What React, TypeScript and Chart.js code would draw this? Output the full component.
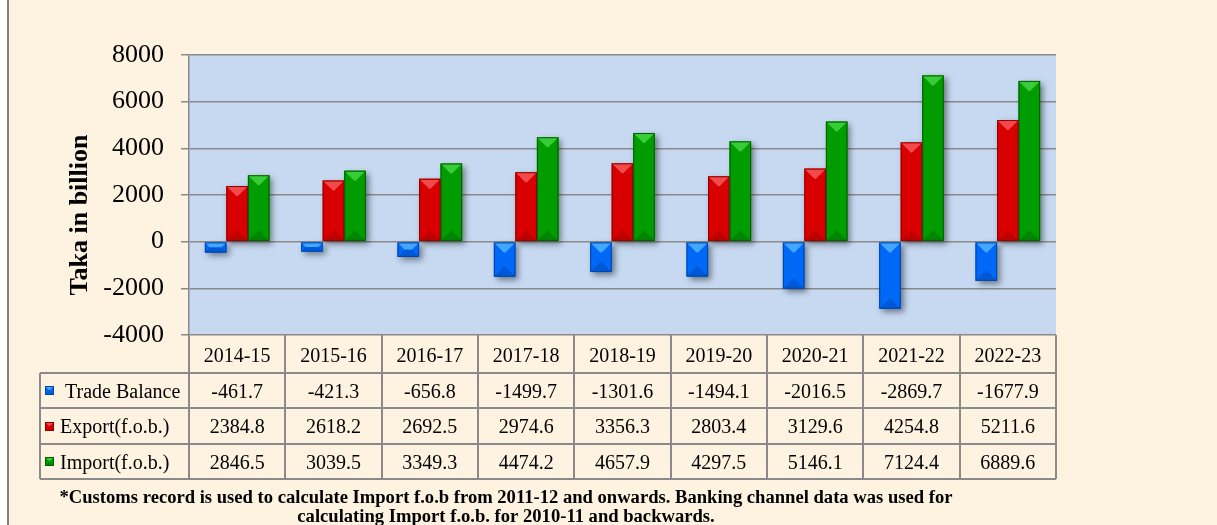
import React, { useEffect, useRef } from 'react';
import { Chart, registerables } from 'chart.js';

Chart.register(...registerables);

// ---------- data ----------
const CATEGORIES = ['2014-15', '2015-16', '2016-17', '2017-18', '2018-19', '2019-20', '2020-21', '2021-22', '2022-23'];
const TRADE_BALANCE = [-461.7, -421.3, -656.8, -1499.7, -1301.6, -1494.1, -2016.5, -2869.7, -1677.9];
const EXPORT_FOB = [2384.8, 2618.2, 2692.5, 2974.6, 3356.3, 2803.4, 3129.6, 4254.8, 5211.6];
const IMPORT_FOB = [2846.5, 3039.5, 3349.3, 4474.2, 4657.9, 4297.5, 5146.1, 7124.4, 6889.6];
const SERIES_NAMES = [' Trade Balance', 'Export(f.o.b.)', 'Import(f.o.b.)'];
const Y_MIN = -4000;
const Y_MAX = 8000;
const Y_STEP = 2000;
const Y_TITLE = 'Taka in billion';
const FOOTNOTE = [
  '*Customs record is used to calculate Import f.o.b from 2011-12 and onwards. Banking channel data was used for',
  'calculating Import f.o.b. for 2010-11 and backwards.',
];

// ---------- styles ----------
const SERIF = "'Liberation Serif', 'Times New Roman', serif";
const CREAM = '#FEF2E0';
const PLOT_BG = '#C6D9F1';
const GRID = '#8a8a8a';
const PALETTE = [
  { base: '#0068F6', light: '#45A6FF', dark: '#0058D6', edge: '#0046A8' },
  { base: '#D80000', light: '#F24A4A', dark: '#BE0000', edge: '#900000' },
  { base: '#009C00', light: '#38CC38', dark: '#008500', edge: '#005E00' },
];

function poly(ctx: CanvasRenderingContext2D, pts: number[][], fill: string) {
  ctx.beginPath();
  ctx.moveTo(pts[0][0], pts[0][1]);
  for (let i = 1; i < pts.length; i++) ctx.lineTo(pts[i][0], pts[i][1]);
  ctx.closePath();
  ctx.fillStyle = fill;
  ctx.fill();
}

function drawBevel(ctx: CanvasRenderingContext2D, l: number, t: number, r: number, b: number, c: any, maxD = 10) {
  const w = r - l;
  const h = b - t;
  if (w <= 0 || h <= 0) return;
  const d = Math.min(w / 2, h / 2, maxD);
  poly(ctx, [[l, t], [r, t], [r - d, t + d], [l + d, t + d]], c.light);
  poly(ctx, [[l, b], [r, b], [r - d, b - d], [l + d, b - d]], c.dark);
  ctx.strokeStyle = c.edge;
  ctx.lineWidth = 1;
  ctx.strokeRect(l + 0.5, t + 0.5, w - 1, h - 1);
}

function barRects(chart: any) {
  const out: any[] = [];
  chart.data.datasets.forEach((_: any, di: number) => {
    const meta = chart.getDatasetMeta(di);
    if (meta.hidden) return;
    meta.data.forEach((el: any) => {
      const p = el.getProps(['x', 'y', 'base', 'width'], true);
      const l = p.x - p.width / 2;
      const r = p.x + p.width / 2;
      const t = Math.min(p.y, p.base);
      const b = Math.max(p.y, p.base);
      out.push({ l, r, t, b, c: PALETTE[di] });
    });
  });
  return out;
}

const decorPlugin = {
  id: 'decor',
  beforeDraw(chart: any) {
    const { ctx, chartArea: a } = chart;
    ctx.save();
    ctx.fillStyle = PLOT_BG;
    ctx.fillRect(a.left, a.top, a.right - a.left, a.bottom - a.top);
    ctx.restore();
  },
  beforeDatasetsDraw(chart: any) {
    const { ctx } = chart;
    ctx.save();
    ctx.shadowColor = 'rgba(0,0,0,0.45)';
    ctx.shadowBlur = 6;
    ctx.shadowOffsetX = 3;
    ctx.shadowOffsetY = 3;
    barRects(chart).forEach((q) => {
      ctx.fillStyle = q.c.base;
      ctx.fillRect(q.l, q.t, q.r - q.l, q.b - q.t);
    });
    ctx.restore();
  },
  afterDatasetsDraw(chart: any) {
    const { ctx } = chart;
    ctx.save();
    barRects(chart).forEach((q) => drawBevel(ctx, q.l, q.t, q.r, q.b, q.c));
    ctx.restore();
  },
  afterDraw(chart: any) {
    const { ctx, chartArea: a } = chart;
    const n = CATEGORIES.length;
    const bw = (a.right - a.left) / n;
    const rows = [a.bottom, a.bottom + 38, a.bottom + 73, a.bottom + 109, a.bottom + 144];
    const tableLeft = 31;
    ctx.save();
    ctx.strokeStyle = GRID;
    ctx.lineWidth = 2;
    ctx.beginPath();
    for (let i = 0; i <= n; i++) {
      const x = Math.round(a.left + i * bw);
      ctx.moveTo(x, rows[0]);
      ctx.lineTo(x, rows[4]);
    }
    for (let j = 1; j <= 4; j++) {
      ctx.moveTo(tableLeft, rows[j]);
      ctx.lineTo(a.right, rows[j]);
    }
    ctx.moveTo(tableLeft, rows[1]);
    ctx.lineTo(tableLeft, rows[4]);
    ctx.stroke();

    // values
    const series = [TRADE_BALANCE, EXPORT_FOB, IMPORT_FOB];
    ctx.fillStyle = '#000';
    ctx.font = `20px ${SERIF}`;
    ctx.textBaseline = 'middle';
    ctx.textAlign = 'center';
    series.forEach((vals, s) => {
      const cy = (rows[s + 1] + rows[s + 2]) / 2 + 2;
      vals.forEach((v, i) => {
        ctx.fillText(v.toFixed(1), a.left + (i + 0.5) * bw, cy);
      });
    });
    // legend keys
    ctx.textAlign = 'left';
    SERIES_NAMES.forEach((name, s) => {
      const cy = (rows[s + 1] + rows[s + 2]) / 2;
      const mx = 36;
      const my = Math.round(cy - 4.5);
      ctx.fillStyle = PALETTE[s].base;
      ctx.fillRect(mx, my, 9, 9);
      drawBevel(ctx, mx, my, mx + 9, my + 9, PALETTE[s], 4);
      ctx.fillStyle = '#000';
      ctx.fillText(name, 51, cy + 2);
    });

    // y-axis title
    ctx.save();
    ctx.translate(71, 215);
    ctx.rotate(-Math.PI / 2);
    ctx.font = `bold 26px ${SERIF}`;
    ctx.textAlign = 'center';
    ctx.textBaseline = 'middle';
    ctx.fillText(Y_TITLE, 0, 0);
    ctx.restore();

    // footnote
    ctx.font = `bold 18.6px ${SERIF}`;
    ctx.textAlign = 'center';
    ctx.textBaseline = 'middle';
    ctx.fillStyle = '#000';
    ctx.fillText(FOOTNOTE[0], 497, 498);
    ctx.fillText(FOOTNOTE[1], 497, 517);
    ctx.restore();
  },
};

export default function App() {
  const ref = useRef<HTMLCanvasElement>(null);
  useEffect(() => {
    document.body.style.overflow = 'hidden';
    const chart = new Chart(ref.current as HTMLCanvasElement, {
      type: 'bar',
      data: {
        labels: CATEGORIES,
        datasets: [
          { label: SERIES_NAMES[0].trim(), data: TRADE_BALANCE, backgroundColor: PALETTE[0].base, borderWidth: 0 },
          { label: SERIES_NAMES[1], data: EXPORT_FOB, backgroundColor: PALETTE[1].base, borderWidth: 0 },
          { label: SERIES_NAMES[2], data: IMPORT_FOB, backgroundColor: PALETTE[2].base, borderWidth: 0 },
        ],
      },
      options: {
        responsive: false,
        animation: false,
        devicePixelRatio: 1,
        datasets: { bar: { barPercentage: 1, categoryPercentage: 0.67 } },
        layout: { padding: { top: 55, right: 161, left: 0, bottom: 0 } },
        plugins: { legend: { display: false }, tooltip: { enabled: false }, title: { display: false } },
        scales: {
          x: {
            type: 'category',
            offset: true,
            grid: { display: false, drawTicks: false },
            border: { display: false },
            ticks: { font: { family: SERIF, size: 20 }, color: '#000', padding: 10, maxRotation: 0, autoSkip: false },
            afterFit: (s: any) => { s.height = 190; },
          },
          y: {
            min: Y_MIN,
            max: Y_MAX,
            ticks: {
              stepSize: Y_STEP,
              font: { family: SERIF, size: 26 },
              color: '#000',
              padding: 17,
              callback: (v: any) => String(v),
            },
            grid: { color: GRID, lineWidth: 1.5, tickLength: 8, drawTicks: true },
            border: { display: true, color: GRID, width: 1.5 },
            afterFit: (s: any) => { s.width = 180; },
          },
        },
      } as any,
      plugins: [decorPlugin],
    });
    return () => chart.destroy();
  }, []);
  return (
    <div
      style={{
        position: 'absolute',
        left: 7,
        top: 0,
        width: 1210,
        height: 525,
        background: CREAM,
        borderLeft: '2px solid #7f7f7f',
        boxSizing: 'border-box',
      }}
    >
      <canvas ref={ref} width={1208} height={525} style={{ display: 'block' }} />
    </div>
  );
}
